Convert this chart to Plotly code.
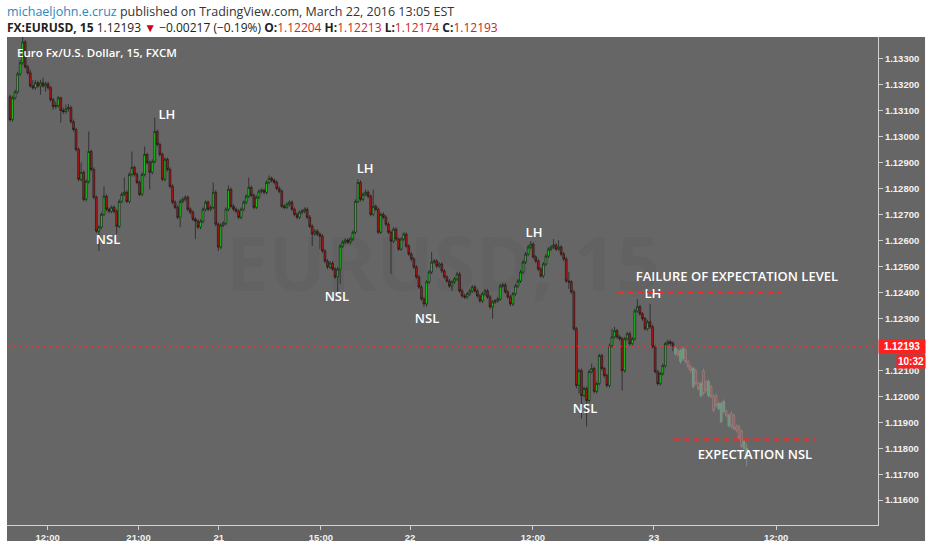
import plotly.graph_objects as go

# ---------------- data: EURUSD 15-min candles ----------------
first_open = 1.13154
close = [
1.13066, 1.13150, 1.13173, 1.13242, 1.13285, 1.13365, 1.13269, 1.13246, 1.13196, 1.13189,
1.13208, 1.13196, 1.13208, 1.13196, 1.13204, 1.13189, 1.13143, 1.13116, 1.13120, 1.13150,
1.13101, 1.13097, 1.13108, 1.13112, 1.13058, 1.13028, 1.12951, 1.12836, 1.12863, 1.12759,
1.12828, 1.12943, 1.12874, 1.12767, 1.12636, 1.12652, 1.12701, 1.12771, 1.12721, 1.12713,
1.12728, 1.12713, 1.12655, 1.12751, 1.12778, 1.12786, 1.12751, 1.12855, 1.12882, 1.12855,
1.12824, 1.12778, 1.12855, 1.12932, 1.12901, 1.12863, 1.12905, 1.13020, 1.12970, 1.12932,
1.12836, 1.12913, 1.12874, 1.12809, 1.12748, 1.12728, 1.12690, 1.12751, 1.12759, 1.12767,
1.12721, 1.12709, 1.12682, 1.12675, 1.12652, 1.12675, 1.12721, 1.12748, 1.12721, 1.12728,
1.12786, 1.12663, 1.12575, 1.12659, 1.12667, 1.12721, 1.12797, 1.12732, 1.12721, 1.12713,
1.12690, 1.12721, 1.12748, 1.12771, 1.12805, 1.12774, 1.12728, 1.12767, 1.12790, 1.12794,
1.12786, 1.12824, 1.12840, 1.12832, 1.12824, 1.12801, 1.12790, 1.12732, 1.12728, 1.12740,
1.12748, 1.12721, 1.12701, 1.12690, 1.12709, 1.12713, 1.12721, 1.12690, 1.12655, 1.12625,
1.12636, 1.12625, 1.12617, 1.12560, 1.12521, 1.12498, 1.12513, 1.12490, 1.12460, 1.12490,
1.12579, 1.12594, 1.12602, 1.12594, 1.12606, 1.12632, 1.12751, 1.12824, 1.12759, 1.12778,
1.12786, 1.12771, 1.12701, 1.12732, 1.12721, 1.12632, 1.12701, 1.12690, 1.12663, 1.12632,
1.12598, 1.12644, 1.12606, 1.12567, 1.12606, 1.12625, 1.12579, 1.12548, 1.12529, 1.12498,
1.12460, 1.12421, 1.12375, 1.12356, 1.12441, 1.12479, 1.12517, 1.12521, 1.12502, 1.12510,
1.12483, 1.12460, 1.12444, 1.12425, 1.12441, 1.12452, 1.12471, 1.12406, 1.12387, 1.12383,
1.12395, 1.12406, 1.12421, 1.12406, 1.12387, 1.12368, 1.12395, 1.12406, 1.12383, 1.12345,
1.12364, 1.12368, 1.12375, 1.12425, 1.12429, 1.12402, 1.12383, 1.12356, 1.12395, 1.12425,
1.12444, 1.12479, 1.12517, 1.12548, 1.12575, 1.12586, 1.12537, 1.12521, 1.12490, 1.12464,
1.12510, 1.12540, 1.12567, 1.12575, 1.12583, 1.12567, 1.12575, 1.12548, 1.12529, 1.12444,
1.12441, 1.12402, 1.12260, 1.12042, 1.12099, 1.12003, 1.12030, 1.11984, 1.12095, 1.12107,
1.12019, 1.12049, 1.12157, 1.12107, 1.12080, 1.12042, 1.12195, 1.12229, 1.12253, 1.12229,
1.12222, 1.12099, 1.12222, 1.12241, 1.12203, 1.12222, 1.12329, 1.12345, 1.12318, 1.12299,
1.12260, 1.12287, 1.12268, 1.12191, 1.12095, 1.12049, 1.12088, 1.12118, 1.12203, 1.12210,
1.12204, 1.12193]
high = [
1.13162, 1.13158, 1.13181, 1.13250, 1.13296, 1.13388, 1.13373, 1.13277, 1.13258, 1.13219,
1.13219, 1.13216, 1.13219, 1.13227, 1.13212, 1.13212, 1.13196, 1.13150, 1.13135, 1.13158,
1.13154, 1.13112, 1.13124, 1.13127, 1.13120, 1.13066, 1.13035, 1.12959, 1.12901, 1.12870,
1.12836, 1.13020, 1.12951, 1.12882, 1.12774, 1.12659, 1.12709, 1.12809, 1.12778, 1.12728,
1.12736, 1.12736, 1.12721, 1.12759, 1.12786, 1.12843, 1.12794, 1.12863, 1.12943, 1.12889,
1.12863, 1.12832, 1.12863, 1.12962, 1.12939, 1.12909, 1.12913, 1.13074, 1.13028, 1.12978,
1.12939, 1.12920, 1.12920, 1.12882, 1.12817, 1.12755, 1.12736, 1.12759, 1.12767, 1.12774,
1.12774, 1.12728, 1.12717, 1.12690, 1.12682, 1.12682, 1.12728, 1.12755, 1.12755, 1.12736,
1.12824, 1.12794, 1.12671, 1.12667, 1.12675, 1.12728, 1.12813, 1.12805, 1.12740, 1.12728,
1.12721, 1.12728, 1.12755, 1.12778, 1.12843, 1.12813, 1.12782, 1.12774, 1.12797, 1.12801,
1.12801, 1.12832, 1.12851, 1.12847, 1.12840, 1.12832, 1.12809, 1.12797, 1.12740, 1.12748,
1.12755, 1.12755, 1.12728, 1.12709, 1.12717, 1.12721, 1.12728, 1.12728, 1.12698, 1.12663,
1.12644, 1.12644, 1.12632, 1.12625, 1.12567, 1.12529, 1.12521, 1.12521, 1.12498, 1.12498,
1.12586, 1.12602, 1.12609, 1.12609, 1.12613, 1.12640, 1.12759, 1.12836, 1.12832, 1.12786,
1.12797, 1.12794, 1.12778, 1.12797, 1.12740, 1.12728, 1.12709, 1.12709, 1.12698, 1.12671,
1.12640, 1.12652, 1.12652, 1.12613, 1.12613, 1.12632, 1.12632, 1.12586, 1.12556, 1.12537,
1.12506, 1.12467, 1.12429, 1.12383, 1.12448, 1.12487, 1.12556, 1.12529, 1.12529, 1.12517,
1.12517, 1.12490, 1.12467, 1.12452, 1.12448, 1.12460, 1.12479, 1.12479, 1.12414, 1.12395,
1.12402, 1.12414, 1.12429, 1.12429, 1.12414, 1.12395, 1.12402, 1.12414, 1.12414, 1.12391,
1.12371, 1.12375, 1.12383, 1.12433, 1.12437, 1.12437, 1.12410, 1.12391, 1.12402, 1.12433,
1.12452, 1.12487, 1.12525, 1.12556, 1.12583, 1.12598, 1.12594, 1.12544, 1.12529, 1.12498,
1.12517, 1.12548, 1.12575, 1.12583, 1.12606, 1.12590, 1.12602, 1.12583, 1.12556, 1.12537,
1.12479, 1.12448, 1.12410, 1.12268, 1.12107, 1.12107, 1.12038, 1.12038, 1.12103, 1.12126,
1.12114, 1.12057, 1.12164, 1.12164, 1.12114, 1.12088, 1.12203, 1.12260, 1.12268, 1.12260,
1.12237, 1.12229, 1.12229, 1.12249, 1.12249, 1.12229, 1.12337, 1.12375, 1.12352, 1.12325,
1.12306, 1.12295, 1.12356, 1.12276, 1.12199, 1.12103, 1.12095, 1.12126, 1.12210, 1.12218,
1.12218, 1.12213]
low = [
1.13058, 1.13058, 1.13143, 1.13166, 1.13235, 1.13277, 1.13262, 1.13239, 1.13189, 1.13181,
1.13181, 1.13189, 1.13162, 1.13189, 1.13173, 1.13181, 1.13135, 1.13104, 1.13108, 1.13112,
1.13054, 1.13089, 1.13089, 1.13097, 1.13051, 1.13020, 1.12943, 1.12828, 1.12828, 1.12751,
1.12751, 1.12820, 1.12866, 1.12759, 1.12629, 1.12560, 1.12644, 1.12694, 1.12713, 1.12705,
1.12705, 1.12705, 1.12625, 1.12648, 1.12744, 1.12771, 1.12744, 1.12744, 1.12847, 1.12847,
1.12817, 1.12771, 1.12771, 1.12847, 1.12893, 1.12797, 1.12855, 1.12897, 1.12962, 1.12924,
1.12828, 1.12828, 1.12866, 1.12801, 1.12740, 1.12721, 1.12682, 1.12652, 1.12744, 1.12751,
1.12713, 1.12701, 1.12675, 1.12606, 1.12644, 1.12644, 1.12667, 1.12713, 1.12713, 1.12713,
1.12721, 1.12655, 1.12560, 1.12567, 1.12652, 1.12659, 1.12713, 1.12725, 1.12713, 1.12705,
1.12682, 1.12682, 1.12713, 1.12740, 1.12763, 1.12767, 1.12721, 1.12721, 1.12759, 1.12782,
1.12778, 1.12778, 1.12817, 1.12824, 1.12817, 1.12794, 1.12782, 1.12725, 1.12721, 1.12721,
1.12732, 1.12713, 1.12694, 1.12682, 1.12682, 1.12701, 1.12705, 1.12682, 1.12648, 1.12579,
1.12617, 1.12617, 1.12567, 1.12552, 1.12513, 1.12490, 1.12490, 1.12483, 1.12452, 1.12402,
1.12433, 1.12571, 1.12586, 1.12586, 1.12586, 1.12598, 1.12625, 1.12744, 1.12751, 1.12751,
1.12771, 1.12763, 1.12694, 1.12694, 1.12713, 1.12625, 1.12625, 1.12682, 1.12655, 1.12625,
1.12471, 1.12590, 1.12598, 1.12560, 1.12560, 1.12598, 1.12571, 1.12540, 1.12521, 1.12490,
1.12452, 1.12414, 1.12368, 1.12345, 1.12345, 1.12433, 1.12471, 1.12510, 1.12494, 1.12494,
1.12475, 1.12452, 1.12437, 1.12418, 1.12406, 1.12433, 1.12444, 1.12398, 1.12379, 1.12375,
1.12375, 1.12387, 1.12398, 1.12398, 1.12379, 1.12360, 1.12360, 1.12387, 1.12375, 1.12337,
1.12299, 1.12356, 1.12360, 1.12368, 1.12418, 1.12395, 1.12375, 1.12348, 1.12348, 1.12387,
1.12418, 1.12437, 1.12471, 1.12510, 1.12540, 1.12567, 1.12529, 1.12513, 1.12483, 1.12456,
1.12456, 1.12502, 1.12533, 1.12560, 1.12567, 1.12560, 1.12560, 1.12540, 1.12521, 1.12437,
1.12414, 1.12395, 1.12253, 1.12030, 1.12011, 1.11915, 1.11996, 1.11884, 1.11976, 1.12088,
1.12011, 1.12011, 1.12042, 1.12099, 1.12072, 1.12034, 1.12034, 1.12187, 1.12222, 1.12222,
1.12214, 1.12022, 1.12091, 1.12214, 1.12195, 1.12195, 1.12214, 1.12322, 1.12310, 1.12291,
1.12253, 1.12253, 1.12260, 1.12184, 1.12088, 1.12042, 1.12042, 1.12080, 1.12111, 1.12195,
1.12195, 1.12174]
open_ = [first_open] + close[:-1]

# projected (faded) bar pattern
proj_open = [1.12164, 1.12176, 1.12134, 1.12145, 1.12176, 1.12134, 1.12114, 1.12038, 1.12099, 1.12049,
             1.12003, 1.12099, 1.12057, 1.12003, 1.12038, 1.11999, 1.12003, 1.11953, 1.11903, 1.11942,
             1.11942, 1.11888, 1.11934, 1.11926, 1.11884, 1.11884, 1.11865, 1.11800, 1.11761]
proj_high = [1.12191, 1.12184, 1.12184, 1.12191, 1.12184, 1.12141, 1.12122, 1.12114, 1.12107, 1.12057,
             1.12057, 1.12107, 1.12065, 1.12065, 1.12045, 1.12007, 1.12011, 1.11980, 1.11980, 1.11988,
             1.11950, 1.11934, 1.11942, 1.11934, 1.11892, 1.11892, 1.11873, 1.11834, 1.11819]
proj_low = [1.12157, 1.12153, 1.12126, 1.12137, 1.12126, 1.12103, 1.12088, 1.12030, 1.12042, 1.12022,
            1.11996, 1.12003, 1.12015, 1.11996, 1.11992, 1.11938, 1.11957, 1.11946, 1.11896, 1.11934,
            1.11919, 1.11880, 1.11876, 1.11869, 1.11861, 1.11830, 1.11800, 1.11792, 1.11731]
proj_close = [1.12184, 1.12160, 1.12176, 1.12184, 1.12134, 1.12114, 1.12099, 1.12107, 1.12049, 1.12030,
              1.12049, 1.12011, 1.12022, 1.12057, 1.11999, 1.11946, 1.11965, 1.11972, 1.11972, 1.11980,
              1.11926, 1.11926, 1.11884, 1.11876, 1.11869, 1.11838, 1.11807, 1.11827, 1.11800]

x_real = list(range(len(close)))
x_proj = list(range(len(close), len(close) + len(proj_close)))

# time axis labels (bar index positions)
tick_pos = [14.8, 50.6, 82.2, 122.4, 157.5, 205.9, 253.5, 301.6]
tick_text = ["12:00", "21:00", "21", "15:00", "22", "12:00", "23", "12:00"]
price_ticks = [1.116, 1.117, 1.118, 1.119, 1.120, 1.121, 1.122, 1.123, 1.124,
               1.125, 1.126, 1.127, 1.128, 1.129, 1.130, 1.131, 1.132, 1.133]

# chart notes
label_x = [3.9, 61.8, 38.6, 139.8, 128.7, 164.2, 206.3, 253.1, 226.4, 286.2, 293.3]
label_y = [1.13400, 1.13081, 1.12598, 1.12874, 1.12379, 1.12295, 1.12625, 1.12391, 1.11950, 1.12456, 1.11773]
label_text = ["LH", "LH", "NSL", "LH", "NSL", "NSL", "LH", "LH", "NSL",
              "FAILURE OF EXPECTATION LEVEL", "EXPECTATION NSL"]
level_prices = [1.12402, 1.11834]
level_x0 = [239.0, 261.0]
level_x1 = [303.9, 316.9]

last_o, last_h, last_l, last_c = open_[-1], high[-1], low[-1], close[-1]
change = -0.00217
change_pct = -0.19

# ---------------- figure ----------------
fig = go.Figure()
fig.add_trace(go.Candlestick(
    x=x_real, open=open_, high=high, low=low, close=close,
    increasing=dict(fillcolor="#1fd21f", line=dict(color="#111111", width=0.6)),
    decreasing=dict(fillcolor="#b31818", line=dict(color="#111111", width=0.6)),
    whiskerwidth=0, hoverinfo="skip", showlegend=False))
fig.add_trace(go.Candlestick(
    x=x_proj, open=proj_open, high=proj_high, low=proj_low, close=proj_close,
    increasing=dict(fillcolor="#5a9e70", line=dict(color="#8a9a90", width=0.7)),
    decreasing=dict(fillcolor="#9a5555", line=dict(color="#9a8585", width=0.7)),
    whiskerwidth=0, hoverinfo="skip", showlegend=False))
fig.add_trace(go.Scatter(
    x=label_x, y=label_y, text=label_text, mode="text", cliponaxis=True,
    textfont=dict(family="Open Sans", size=13, color="#ffffff", weight=600),
    hoverinfo="skip", showlegend=False))

tickfont = dict(family="Liberation Sans", size=9.5, color="#f2f2f2", weight="bold")
fig.update_layout(
    width=932, height=550,
    margin=dict(l=7, r=54, t=37, b=23, pad=0),
    paper_bgcolor="#ffffff", plot_bgcolor="#666666",
    boxgap=0.0,
    xaxis=dict(range=[-1.18, 341.73], rangeslider=dict(visible=False), showgrid=False,
               zeroline=False, tickmode="array", tickvals=tick_pos, ticktext=tick_text,
               ticks="outside", ticklen=4, tickcolor="#cfcfcf", showline=True,
               linecolor="#d4d4d4", linewidth=1, tickfont=tickfont, fixedrange=True),
    yaxis=dict(range=[1.115043, 1.133844], side="right", showgrid=False, zeroline=False,
               tickmode="array", tickvals=price_ticks,
               ticktext=["%.5f" % v for v in price_ticks],
               ticks="outside", ticklen=4, tickcolor="#cfcfcf", showline=True,
               linecolor="#d4d4d4", linewidth=1, tickfont=tickfont, fixedrange=True),
)

shapes = [
    dict(type="rect", xref="paper", yref="paper", x0=0, x1=1.054, y0=-0.0327, y1=1,
         fillcolor="#666666", line=dict(width=0), layer="below"),
    dict(type="line", xref="paper", yref="y", x0=0, x1=1, y0=last_c, y1=last_c,
         line=dict(color="#ff2a2a", width=1, dash="dot")),
]
for p, a, b in zip(level_prices, level_x0, level_x1):
    shapes.append(dict(type="line", xref="x", yref="y", x0=a, x1=b, y0=p, y1=p,
                       line=dict(color="#e8302c", width=2.2, dash="6px,4px")))
fig.update_layout(shapes=shapes)

red = "#c62828"
header2 = ("<b>FX:EURUSD, 15</b> %.5f <span style='color:#d0021b'>▼</span> "
           "−%.5f (−%.2f%%) <b>O:</b><span style='color:%s'>%.5f</span> "
           "<b>H:</b><span style='color:%s'>%.5f</span> "
           "<b>L:</b><span style='color:%s'>%.5f</span> "
           "<b>C:</b><span style='color:%s'>%.5f</span>") % (
    last_c, abs(change), abs(change_pct), red, last_o, red, last_h, red, last_l, red, last_c)

fig.update_layout(annotations=[
    dict(xref="paper", yref="paper", x=-0.0023, y=1.0531, xanchor="left", yanchor="middle",
         showarrow=False, align="left",
         text="<span style='color:#2e86c1'>michaeljohn.e.cruz</span> published on TradingView.com, March 22, 2016 13:05 EST",
         font=dict(family="Open Sans", size=12.5, color="#333333")),
    dict(xref="paper", yref="paper", x=-0.0023, y=1.0194, xanchor="left", yanchor="middle",
         showarrow=False, align="left", text=header2,
         font=dict(family="Open Sans", size=12, color="#222222")),
    dict(xref="paper", yref="paper", x=0.0092, y=0.9673, xanchor="left", yanchor="middle",
         showarrow=False, text="Euro Fx/U.S. Dollar, 15, FXCM",
         font=dict(family="Open Sans", size=11.5, color="#ffffff", weight=600)),
    dict(xref="paper", yref="paper", x=0.5, y=0.54, xanchor="center", yanchor="middle",
         showarrow=False, text="EURUSD, 15",
         font=dict(family="Open Sans", size=76, color="rgba(0,0,0,0.03)", weight=700)),
    dict(xref="paper", yref="y", x=1, y=last_c, xanchor="left", yanchor="middle",
         showarrow=False, text="<b>%.5f</b>" % last_c, bgcolor="#ff1f1f",
         width=46, height=13, borderpad=0,
         font=dict(family="Liberation Sans", size=10, color="#ffffff")),
    dict(xref="paper", yref="y", x=1, y=last_c, xanchor="left", yanchor="middle",
         xshift=18, yshift=-15, showarrow=False, text="<b>10:32</b>", bgcolor="#ff1f1f",
         width=28, height=13, borderpad=0,
         font=dict(family="Liberation Sans", size=10, color="#ffffff")),
])

# remove the browser's default 8px page margin so the figure fills the window exactly
fig.write_html("out.html", config={"displayModeBar": False},
               post_script="document.body.style.margin='0px';")
